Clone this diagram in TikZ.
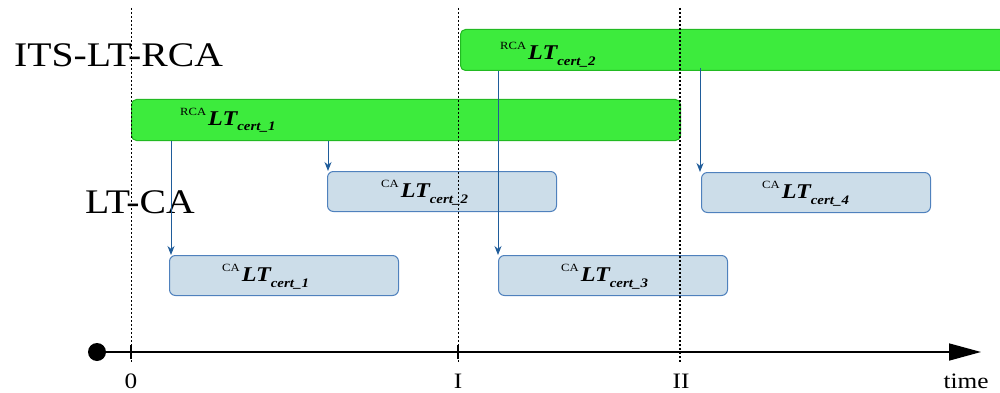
\documentclass[tikz,border=0pt]{standalone}
\usepackage{fontspec}
\setmainfont{Liberation Serif}[FakeStretch=1.15]
\usetikzlibrary{arrows.meta}

\definecolor{barfill}{HTML}{3DEB3D}
\definecolor{barline}{HTML}{22BA22}
\definecolor{boxfill}{HTML}{CCDDE9}
\definecolor{boxline}{HTML}{4F81BD}
\definecolor{arrowc}{HTML}{1F5C9A}

% superscript issuer, bold italic LT, subscript certificate index
\newcommand\certlbl[3]{%
  \raisebox{10pt}{\fontsize{11}{11}\selectfont #1}\hspace{2pt}%
  {\fontsize{21}{21}\selectfont\bfseries\itshape #2}%
  \raisebox{-6pt}{\fontsize{13}{13}\selectfont\bfseries\itshape cert\_#3}}

\begin{document}
\begin{tikzpicture}[x=1pt,y=-1pt,
  bar/.style={draw=barline, fill=barfill, line width=1pt, rounded corners=5pt,
    anchor=north west, inner sep=0pt, minimum height=41pt},
  certbox/.style={draw=boxline, fill=boxfill, line width=1pt, rounded corners=6pt,
    anchor=north west, inner sep=0pt, minimum width=229pt, minimum height=40pt},
  lbl/.style={anchor=base west, inner sep=0pt},
  issue/.style={draw=arrowc, line width=1pt, -{Stealth[length=9pt,width=7pt]}},
  epoch/.style={line width=1pt, dash pattern=on 2pt off 2pt},
  epochbold/.style={line width=2.2pt, dash pattern=on 2pt off 2pt},
  heading/.style={anchor=base west, inner sep=0pt, font=\fontsize{34.5}{34.5}\selectfont},
  ticklbl/.style={inner sep=0pt, font=\fontsize{22}{22}\selectfont}]

\useasboundingbox (0,0) rectangle (1000,393);
\clip (0,0) rectangle (1000,393);

% row titles
\node[heading] (rca) at (14,67) {ITS-LT-RCA};
\node[heading] (ca) at (85,213) {LT-CA};

% root CA certificates
\node[bar, minimum width=549pt] (g1) at (131,99) {};
\node[bar, minimum width=600pt] (g2) at (460,29) {};
\node[lbl] (g1l) at (180,125) {\certlbl{RCA}{LT}{1}};
\node[lbl] (g2l) at (500,60) {\certlbl{RCA}{LT}{2}};

% CA certificates
\node[certbox] (c1) at (169,255) {};
\node[certbox] (c2) at (327,171) {};
\node[certbox] (c3) at (498,255) {};
\node[certbox] (c4) at (701,172) {};
\node[lbl] (c1l) at (222,281) {\certlbl{CA}{LT}{1}};
\node[lbl] (c2l) at (381,197) {\certlbl{CA}{LT}{2}};
\node[lbl] (c3l) at (561,281) {\certlbl{CA}{LT}{3}};
\node[lbl] (c4l) at (762,198) {\certlbl{CA}{LT}{4}};

% issuing arrows
\coordinate (a1) at (171,0);
\coordinate (a2) at (328,0);
\coordinate (a3) at (498,0);
\coordinate (a4) at (700,0);
\draw[issue] (g1.south -| a1) -- (c1.north -| a1);
\draw[issue] (g1.south -| a2) -- (c2.north -| a2);
\draw[issue] (g2.south -| a3) -- (c3.north -| a3);
\draw[issue] ([yshift=3pt]g2.south -| a4) -- (c4.north -| a4);

% time axis
\node[circle, fill=black, minimum size=18pt, inner sep=0pt] (origin) at (97,352) {};
\coordinate (tip) at (981,352);
\draw[line width=1.6pt, -{Triangle[length=32pt,width=17pt]}] (origin) -- (tip);

% epochs
\coordinate (t0) at (131,352);
\coordinate (t1) at (458,352);
\coordinate (t2) at (680,352);
\coordinate (top) at (0,8);
\coordinate (bot) at (0,362);
\draw[epoch] (t0 |- top) -- (t0 |- bot);
\draw[epoch] (t1 |- top) -- (t1 |- bot);
\draw[epochbold] (t2 |- top) -- (t2 |- bot);
\foreach \t in {t0,t1} \draw[line width=2pt] ([yshift=-7pt]\t) -- ([yshift=7pt]\t);

\node[ticklbl] (l0) at (131,381) {0};
\node[ticklbl] (l1) at (458,381) {I};
\node[ticklbl] (l2) at (681,381) {II};
\node[ticklbl] (lt) at (966,381) {time};
\end{tikzpicture}
\end{document}
